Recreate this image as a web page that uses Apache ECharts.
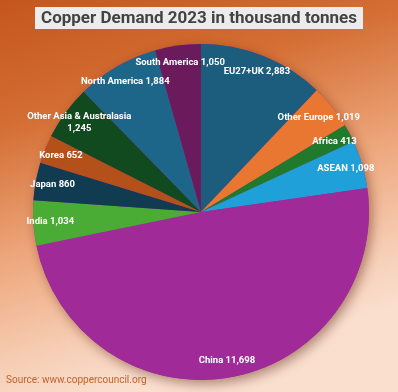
<!DOCTYPE html>
<html><head><meta charset="utf-8">
<script src="https://cdn.jsdelivr.net/npm/echarts@6/dist/echarts.min.js"></script>
<style>html,body{margin:0;padding:0;}#c{width:398px;height:392px;}</style>
</head><body><div id="c"></div>
<script>
const categories = ['EU27+UK','Other Europe','Africa','ASEAN','China','India','Japan','Korea','Other Asia & Australasia','North America','South America'];
const values = [2883,1019,413,1098,11698,1034,860,652,1245,1884,1050];
const palette = ['#1c5c7c','#e97631','#1f7a2c','#1fa0d9','#a02a98','#4aab35','#113b51','#b4511b','#124a1f','#1e6689','#6b1a5c'];

const data = categories.map((n,i)=>({name:n,value:values[i],itemStyle:{color:palette[i]}}));
const fmt = p => {
  const v = p.value.toLocaleString('en-US');
  return p.name.length > 20 ? p.name + '\n' + v : p.name + ' ' + v;
};
const chart = echarts.init(document.getElementById('c'));
const font = 'Roboto, "Liberation Sans", Arial, sans-serif';
chart.setOption({
  backgroundColor: {
    type:'linear', x:0, y:0, x2:0.3, y2:1,
    colorStops:[
      {offset:0, color:'#c4561c'},
      {offset:0.3, color:'#d46e34'},
      {offset:0.6, color:'#eda57a'},
      {offset:0.85, color:'#f6cdb3'},
      {offset:1, color:'#fadfcf'}
    ]
  },
  animation:false,
  title:{
    text:'Copper Demand 2023 in thousand tonnes',
    left:'center', top:7,
    backgroundColor:'#ececec',
    padding:[3,6,2,6],
    textStyle:{color:'#434343', fontSize:17, fontWeight:'bold', fontFamily:font}
  },
  graphic:[{
    type:'text', left:6, top:375,
    style:{text:'Source: www.coppercouncil.org', fill:'#bf632d', fontSize:10, fontFamily:'Roboto, sans-serif'}
  }],
  series:[
    {
      type:'pie', center:[201,212], radius:[0,168], silent:true,
      data:[{value:1, itemStyle:{color:'#a02a98', shadowBlur:12, shadowColor:'rgba(80,20,0,0.45)', shadowOffsetX:3, shadowOffsetY:4}}],
      label:{show:false}, labelLine:{show:false}, z:1
    },
    {
      type:'pie', center:[201,212], radius:[0,168], startAngle:90, clockwise:true,
      data:data, label:{show:false}, labelLine:{show:false}, z:2
    },
    {
      type:'pie', center:[201,212], radius:[128,168], startAngle:90, clockwise:true, silent:true,
      avoidLabelOverlap:false,
      data:categories.map((n,i)=>({name:n,value:values[i]})),
      itemStyle:{color:'rgba(0,0,0,0)'},
      label:{show:true, position:'inside', formatter:fmt, color:'#ffffff', fontSize:9.5, fontWeight:'bold', fontFamily:font, align:'center', lineHeight:12},
      labelLayout:{hideOverlap:false},
      labelLine:{show:false}, z:3
    }
  ]
});
</script></body></html>
